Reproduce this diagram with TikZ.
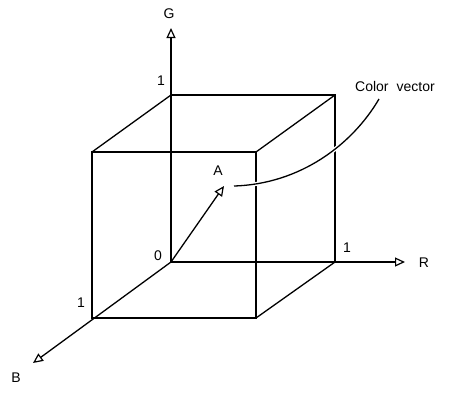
\documentclass[tikz,border=0pt]{standalone}
\usepackage{fontspec}
\setmainfont{Liberation Sans}
\usetikzlibrary{arrows.meta}
\begin{document}
\begin{tikzpicture}[x=1pt,y=-1pt,
  edge/.style={line width=1.3pt},
  axisarrow/.style={line width=1.3pt,-{Triangle[open,length=10pt,width=9pt,line width=1.2pt]}},
  lbl/.style={inner sep=0pt,font=\fontsize{14}{16}\selectfont}]
\useasboundingbox (0,0) rectangle (469,392);
% back face corners
\coordinate (O) at (171,262);
\coordinate (BTL) at (171,95);
\coordinate (BTR) at (335,95);
\coordinate (BBR) at (335,262);
% front face corners
\coordinate (FTL) at (92,152);
\coordinate (FTR) at (256,152);
\coordinate (FBL) at (92,318);
\coordinate (FBR) at (256,318);
% axis ends
\coordinate (Gend) at (171,28);
\coordinate (Rend) at (405,262);
\coordinate (Bend) at (33,363);
\coordinate (Aend) at (224,186);
\coordinate (Cstart) at (234,186);
\coordinate (Cend) at (379,99);
% cube edges
\draw[edge] (BTL) -- (BTR) -- (BBR);
\draw[edge] (FTL) -- (FTR) -- (FBR) -- (FBL) -- cycle;
\draw[edge] (FTL) -- (BTL);
\draw[edge] (FTR) -- (BTR);
\draw[edge] (FBR) -- (BBR);
% axes
\draw[axisarrow] (O) -- (Gend);
\draw[axisarrow] (O) -- (Rend);
\draw[axisarrow] (O) -- (Bend);
% vector A
\draw[axisarrow] (O) -- (Aend);
% color vector leader
\draw[edge,preaction={draw=white,line width=4pt}] (Cstart) .. controls (300,184) and (352,145) .. (Cend);
% labels
\node[lbl] (G) at (169,14) {G};
\node[lbl] (one1) at (161,81) {1};
\node[lbl] (zero) at (158,256) {0};
\node[lbl] (one2) at (81,303) {1};
\node[lbl] (one3) at (347,248) {1};
\node[lbl] (R) at (424,263) {R};
\node[lbl] (B) at (16,378) {B};
\node[lbl] (A) at (218,171) {A};
\node[lbl,anchor=west] (CV) at (355,86) {Color\hspace{8pt}vector};
\end{tikzpicture}
\end{document}
